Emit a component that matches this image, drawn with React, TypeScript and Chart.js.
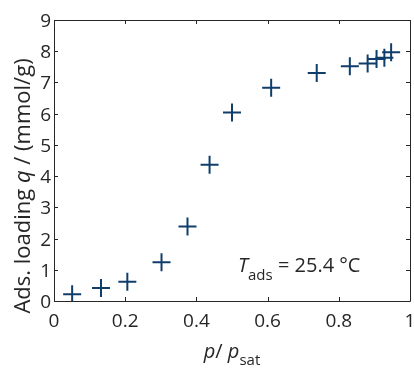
import React, { useEffect, useRef } from "react";
import { Chart, registerables } from "chart.js";

Chart.register(...registerables);

const pressureRatio = [0.051, 0.132, 0.206, 0.302, 0.375, 0.437, 0.5, 0.61, 0.738, 0.831, 0.881, 0.906, 0.928, 0.947];
const loading = [0.22, 0.42, 0.62, 1.24, 2.39, 4.36, 6.04, 6.83, 7.3, 7.52, 7.61, 7.75, 7.79, 7.97];
const xTicks = [0, 0.2, 0.4, 0.6, 0.8, 1];
const xTickLabels = ["0", "0.2", "0.4", "0.6", "0.8", "1"];
const yTicks = [0, 1, 2, 3, 4, 5, 6, 7, 8, 9];
const yTickLabels = ["0", "1", "2", "3", "4", "5", "6", "7", "8", "9"];
const annotationParts = { main: "T", sub: "ads", rest: " = 25.4 °C" };
const annotationPos = { x: 0.517, y: 0.93 };

const FONT = "'Open Sans', sans-serif";
const TEXT = "#262626";
const MARK = "#103e6b";

const decorPlugin = {
  id: "decor",
  afterDraw(chart: any) {
    const { ctx, chartArea, scales } = chart;
    const { left, right, top, bottom } = chartArea;
    const xs = scales.x;
    const ys = scales.y;
    ctx.save();
    ctx.strokeStyle = TEXT;
    ctx.lineWidth = 1;
    ctx.beginPath();
    ctx.rect(Math.round(left) + 0.5, Math.round(top) + 0.5, Math.round(right - left), Math.round(bottom - top));
    ctx.stroke();
    ctx.beginPath();
    const tl = 4;
    for (const v of xTicks) {
      const px = Math.round(xs.getPixelForValue(v)) + 0.5;
      ctx.moveTo(px, bottom);
      ctx.lineTo(px, bottom - tl);
      ctx.moveTo(px, top);
      ctx.lineTo(px, top + tl);
    }
    for (const v of yTicks) {
      const py = Math.round(ys.getPixelForValue(v)) + 0.5;
      ctx.moveTo(left, py);
      ctx.lineTo(left + tl, py);
      ctx.moveTo(right, py);
      ctx.lineTo(right - tl, py);
    }
    ctx.stroke();

    ctx.fillStyle = TEXT;
    ctx.textBaseline = "alphabetic";

    // tick labels
    ctx.font = `19px ${FONT}`;
    ctx.textAlign = "center";
    xTicks.forEach((v, i) => {
      ctx.fillText(xTickLabels[i], xs.getPixelForValue(v), bottom + 26);
    });
    ctx.textAlign = "right";
    yTicks.forEach((v, i) => {
      ctx.fillText(yTickLabels[i], left - 3, ys.getPixelForValue(v) + 7);
    });
    ctx.textAlign = "left";

    // x title: p/ p_sat
    const segsX = [
      { t: "p", f: `italic 20px ${FONT}`, dy: 0 },
      { t: "/ ", f: `20px ${FONT}`, dy: 0 },
      { t: "p", f: `italic 20px ${FONT}`, dy: 0 },
      { t: "sat", f: `15px ${FONT}`, dy: 7 },
    ];
    let w = 0;
    for (const s of segsX) {
      ctx.font = s.f;
      w += ctx.measureText(s.t).width;
    }
    let cx = (left + right) / 2 - w / 2;
    const by = 358;
    for (const s of segsX) {
      ctx.font = s.f;
      ctx.fillText(s.t, cx, by + s.dy);
      cx += ctx.measureText(s.t).width;
    }

    // y title
    const segsY = [
      { t: "Ads. loading ", f: `22px ${FONT}` },
      { t: "q", f: `italic 22px ${FONT}` },
      { t: " / (mmol/g)", f: `22px ${FONT}` },
    ];
    let wy = 0;
    for (const s of segsY) {
      ctx.font = s.f;
      wy += ctx.measureText(s.t).width;
    }
    ctx.save();
    ctx.translate(30, 186);
    ctx.rotate(-Math.PI / 2);
    let cy = -wy / 2;
    for (const s of segsY) {
      ctx.font = s.f;
      ctx.fillText(s.t, cy, 0);
      cy += ctx.measureText(s.t).width;
    }
    ctx.restore();

    // annotation
    const ax = xs.getPixelForValue(annotationPos.x);
    const ay = ys.getPixelForValue(annotationPos.y);
    let ox = ax;
    ctx.font = `italic 20px ${FONT}`;
    ctx.fillText(annotationParts.main, ox, ay);
    ox += ctx.measureText(annotationParts.main).width;
    ctx.font = `15px ${FONT}`;
    ctx.fillText(annotationParts.sub, ox, ay + 8);
    ox += ctx.measureText(annotationParts.sub).width;
    ctx.font = `20px ${FONT}`;
    ctx.fillText(annotationParts.rest, ox, ay);
    ctx.restore();
  },
};

export default function App() {
  const ref = useRef<HTMLCanvasElement | null>(null);
  useEffect(() => {
    document.body.style.margin = "0";
    if (!ref.current) return;
    const chart = new Chart(ref.current, {
      type: "scatter",
      data: {
        datasets: [
          {
            data: pressureRatio.map((x, i) => ({ x, y: loading[i] })),
            pointStyle: "cross",
            pointRadius: 9,
            pointHoverRadius: 9,
            pointBorderWidth: 2,
            borderColor: MARK,
            backgroundColor: MARK,
          },
        ],
      },
      options: {
        animation: false,
        responsive: false,
        devicePixelRatio: 1,
        layout: { autoPadding: false, padding: { top: 20, right: 4, left: 0, bottom: 0 } },
        plugins: { legend: { display: false }, tooltip: { enabled: false } },
        scales: {
          x: {
            type: "linear",
            min: 0,
            max: 1,
            afterFit: (s: any) => {
              s.height = 67;
            },
            grid: { display: false, drawTicks: false },
            border: { display: false },
            ticks: { display: false, stepSize: 0.2 },
          },
          y: {
            type: "linear",
            min: 0,
            max: 9,
            afterFit: (s: any) => {
              s.width = 54;
            },
            grid: { display: false, drawTicks: false },
            border: { display: false },
            ticks: { display: false, stepSize: 1 },
          },
        },
      },
      plugins: [decorPlugin],
    });
    return () => chart.destroy();
  }, []);
  return <canvas ref={ref} width={414} height={368} style={{ display: "block" }} />;
}
